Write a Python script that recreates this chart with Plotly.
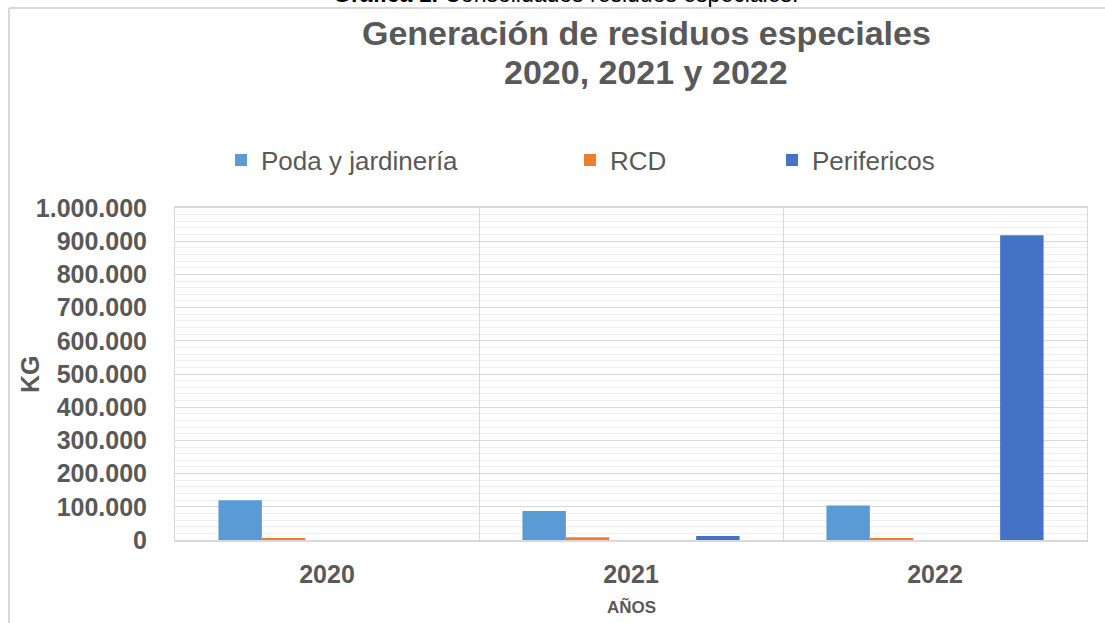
import plotly.graph_objects as go

# --- data -------------------------------------------------------------
years = ["2020", "2021", "2022"]
poda_jardineria = [120000, 87000, 104000]
rcd = [5000, 8000, 6000]
perifericos = [None, 12000, 918000]

series_names = ["Poda y jardinería", "RCD", "Perifericos"]
series_colors = ["#5B9BD5", "#ED7D31", "#4472C4"]

y_ticks = list(range(0, 1000001, 100000))

title_lines = ["Generación de residuos especiales", "2020, 2021 y 2022"]

# --- figure geometry (pixels) ------------------------------------------
W, H = 1105, 623
PL, PR, PT, PB = 175, 1087, 208, 540          # plot area edges
FONT = "Liberation Sans, Arial, sans-serif"
GREY = "#595959"


def px_x(p):
    return (p - PL) / (PR - PL)


def px_y(p):
    return (PB - p) / (PB - PT)


# seven equal slots per year: gap, Poda, RCD, (empty), (empty), Perifericos, gap
slot = 1 / 7
offsets = [-0.5 + slot, -0.5 + 2 * slot, -0.5 + 5 * slot]

fig = go.Figure()
legend_ids = ["legend", "legend2", "legend3"]
for name, vals, col, off, lg in zip(series_names,
                                    [poda_jardineria, rcd, perifericos],
                                    series_colors, offsets, legend_ids):
    fig.add_trace(go.Bar(
        x=years, y=vals, name=name,
        marker=dict(color=col, line=dict(width=0)),
        width=slot, offset=off, legend=lg, showlegend=True,
    ))

legend_common = dict(
    orientation="h", xanchor="left", yanchor="middle",
    font=dict(family=FONT, size=26, color=GREY),
    bgcolor="rgba(0,0,0,0)",
)
legend_y = px_y(160)

annotations = [
    dict(text="<b>Gráfica 1.</b> Consolidados residuos especiales.",
         xref="paper", yref="paper", x=px_x(565), y=px_y(-6),
         xanchor="center", yanchor="middle", showarrow=False,
         font=dict(family=FONT, size=23, color="#000000")),
    dict(text="<b>KG</b>", textangle=-90,
         xref="paper", yref="paper", x=px_x(30), y=px_y(374),
         xanchor="center", yanchor="middle", showarrow=False,
         font=dict(family=FONT, size=25, color=GREY)),
    dict(text="<b>AÑOS</b>",
         xref="paper", yref="paper", x=px_x(631), y=px_y(607),
         xanchor="center", yanchor="middle", showarrow=False,
         font=dict(family=FONT, size=17, color=GREY)),
]
for line, cy in zip(title_lines, [33, 72]):
    annotations.append(dict(
        text=f"<b>{line}</b>",
        xref="paper", yref="paper", x=px_x(646), y=px_y(cy),
        xanchor="center", yanchor="middle", showarrow=False,
        font=dict(family=FONT, size=34, color=GREY)))

fig.update_layout(
    width=W, height=H,
    margin=dict(l=PL, r=W - PR, t=PT, b=H - PB),
    paper_bgcolor="white", plot_bgcolor="white",
    separators=",.",
    barmode="overlay",
    showlegend=True,
    legend=dict(**legend_common, x=px_x(221), y=legend_y),
    legend2=dict(**legend_common, x=px_x(570), y=legend_y),
    legend3=dict(**legend_common, x=px_x(772), y=legend_y),
    xaxis=dict(
        type="category",
        tickson="boundaries",
        showgrid=True, gridcolor="#d9d9d9", gridwidth=1,
        showline=True, linecolor="#d9d9d9", linewidth=2, mirror=True,
        ticks="",
        tickfont=dict(family=FONT, size=25, color=GREY, weight="bold"),
        ticklabelstandoff=11,
    ),
    yaxis=dict(
        range=[0, 1000000],
        tickvals=y_ticks,
        tickformat=",d",
        showgrid=True, gridcolor="#d9d9d9", gridwidth=1,
        minor=dict(dtick=20000, showgrid=True, gridcolor="#efefef", gridwidth=1),
        showline=True, linecolor="#d9d9d9", linewidth=1, mirror=True,
        zeroline=False,
        ticks="",
        tickfont=dict(family=FONT, size=25, color=GREY, weight="bold"),
        ticklabelstandoff=22,
    ),
    annotations=annotations,
    shapes=[
        dict(type="line", xref="paper", yref="paper",
             x0=px_x(9), x1=px_x(9), y0=px_y(8), y1=px_y(H + 5),
             line=dict(color="#d9d9d9", width=2)),
        dict(type="line", xref="paper", yref="paper",
             x0=px_x(9), x1=px_x(W + 5), y0=px_y(8), y1=px_y(8),
             line=dict(color="#d9d9d9", width=2)),
    ],
)

fig.write_html("out.html")
